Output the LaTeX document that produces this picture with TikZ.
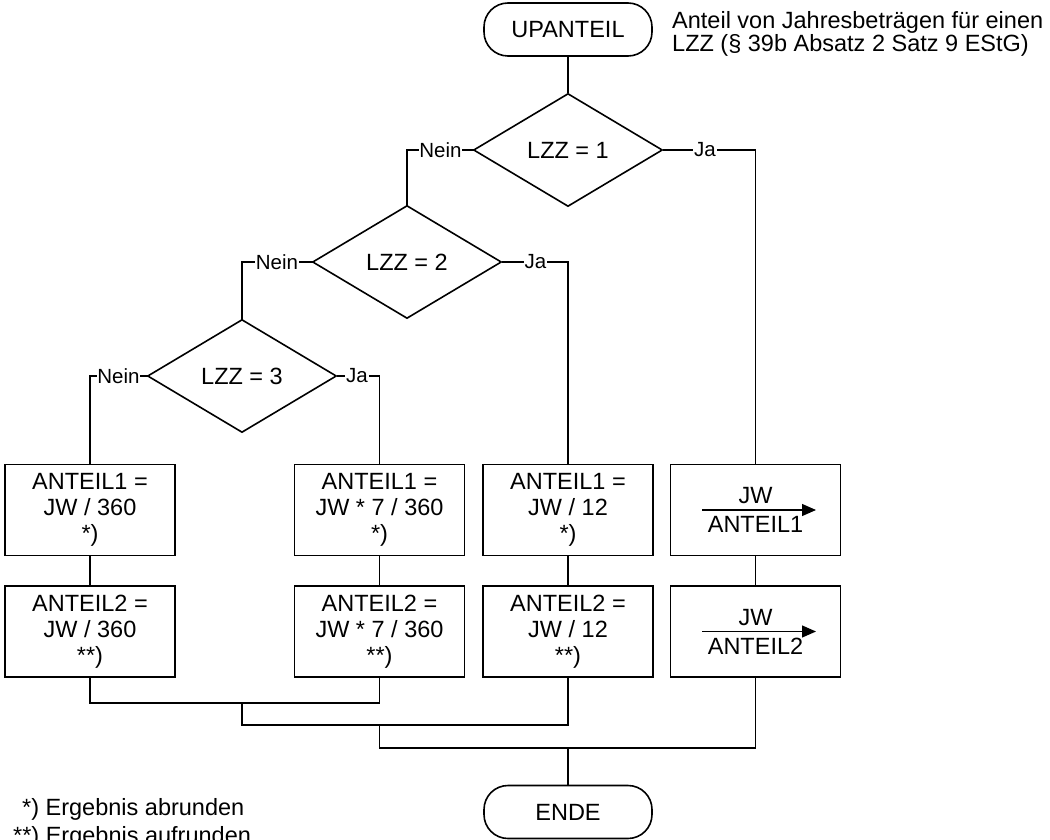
\documentclass[tikz,border=0pt]{standalone}
\usepackage{fontspec}
\setmainfont{Liberation Sans}
\usetikzlibrary{shapes.geometric,arrows.meta}
\begin{document}
\begin{tikzpicture}[x=1pt,y=-1pt,
  every node/.style={font=\fontsize{23.5}{26}\selectfont},
  ln/.style={line width=1.6pt, line cap=rect},
  term/.style={draw, line width=1.6pt, rounded corners=24pt, minimum width=168pt, minimum height=53pt, inner sep=0pt},
  dec/.style={draw, diamond, line width=1.6pt, minimum width=189pt, minimum height=113pt, inner sep=0pt},
  proc/.style={draw, line width=1.6pt, minimum width=170pt, minimum height=91pt, inner sep=0pt, align=center},
  lbl/.style={font=\fontsize{20.5}{24}\selectfont, inner xsep=1.5pt, inner ysep=0pt}
]
\useasboundingbox[fill=white] (0,0) rectangle (1050,840);

% terminators
\node[term] (start) at (568,29.5) {UPANTEIL};
\node[term] (ende) at (568,812) {ENDE};
\node[anchor=north west, align=left, inner sep=0pt, font=\fontsize{23.5}{23}\selectfont] (note) at (672,11.5)
  {Anteil von Jahresbeträgen für einen\\LZZ (§ 39b Absatz 2 Satz 9 EStG)};

% decisions
\node[dec] (d1) at (568,150) {LZZ = 1};
\node[dec] (d2) at (407,262) {LZZ = 2};
\node[dec] (d3) at (242,376) {LZZ = 3};

% labels
\node[lbl] (n1) at (440.5,150) {Nein};
\node[lbl] (j1) at (705,150) {Ja};
\node[lbl] (n2) at (277,262) {Nein};
\node[lbl] (j2) at (535.5,262) {Ja};
\node[lbl] (n3) at (118.5,376) {Nein};
\node[lbl] (j3) at (357,376) {Ja};

% process boxes
\node[proc] (b1a) at (90,510) {ANTEIL1 =\\JW / 360\\*)};
\node[proc] (b1b) at (90,631.5) {ANTEIL2 =\\JW / 360\\**)};
\node[proc] (b2a) at (379.5,510) {ANTEIL1 =\\JW * 7 / 360\\*)};
\node[proc] (b2b) at (379.5,631.5) {ANTEIL2 =\\JW * 7 / 360\\**)};
\node[proc] (b3a) at (568,510) {ANTEIL1 =\\JW / 12\\*)};
\node[proc] (b3b) at (568,631.5) {ANTEIL2 =\\JW / 12\\**)};
\node[proc, font=\fontsize{23.5}{29}\selectfont] (b4a) at (755.5,510) {JW\\ANTEIL1};
\node[proc, font=\fontsize{23.5}{29}\selectfont] (b4b) at (755.5,631.5) {JW\\ANTEIL2};

% fraction arrows inside the JW boxes
\draw[line width=1.3pt, -{Triangle[length=14pt,width=12pt]}] ([xshift=-53.5pt]b4a.center) -- ([xshift=60.5pt]b4a.center);
\draw[line width=1.3pt, -{Triangle[length=14pt,width=12pt]}] ([xshift=-53.5pt]b4b.center) -- ([xshift=60.5pt]b4b.center);

% footnotes
\node[anchor=base west, inner sep=0pt] (f1) at (22,815) {*) Ergebnis abrunden};
\node[anchor=base west, inner sep=0pt] (f2) at (13,843) {**) Ergebnis aufrunden};

% connectors
\draw[ln] (start.south) -- (d1.north);
\draw[ln] (d1.west) -- (n1.east);
\draw[ln] (n1.west) -| (d2.north);
\draw[ln] (d1.east) -- (j1.west);
\draw[ln] (j1.east) -| (b4a.north);
\draw[ln] (d2.west) -- (n2.east);
\draw[ln] (n2.west) -| (d3.north);
\draw[ln] (d2.east) -- (j2.west);
\draw[ln] (j2.east) -| (b3a.north);
\draw[ln] (d3.west) -- (n3.east);
\draw[ln] (n3.west) -| (b1a.north);
\draw[ln] (d3.east) -- (j3.west);
\draw[ln] (j3.east) -| (b2a.north);

\draw[ln] (b1a.south) -- (b1b.north);
\draw[ln] (b2a.south) -- (b2b.north);
\draw[ln] (b3a.south) -- (b3b.north);
\draw[ln] (b4a.south) -- (b4b.north);

\coordinate (m1) at (242,703);
\coordinate (m2) at (379.5,725);
\coordinate (m3) at (568,748);
\draw[ln] (b1b.south) |- (m1) -| (b2b.south);
\draw[ln] (m1) |- (m2) -| (b3b.south);
\draw[ln] (m2) |- (m3) -| (b4b.south);
\draw[ln] (m3) -- (ende.north);
\end{tikzpicture}
\end{document}
